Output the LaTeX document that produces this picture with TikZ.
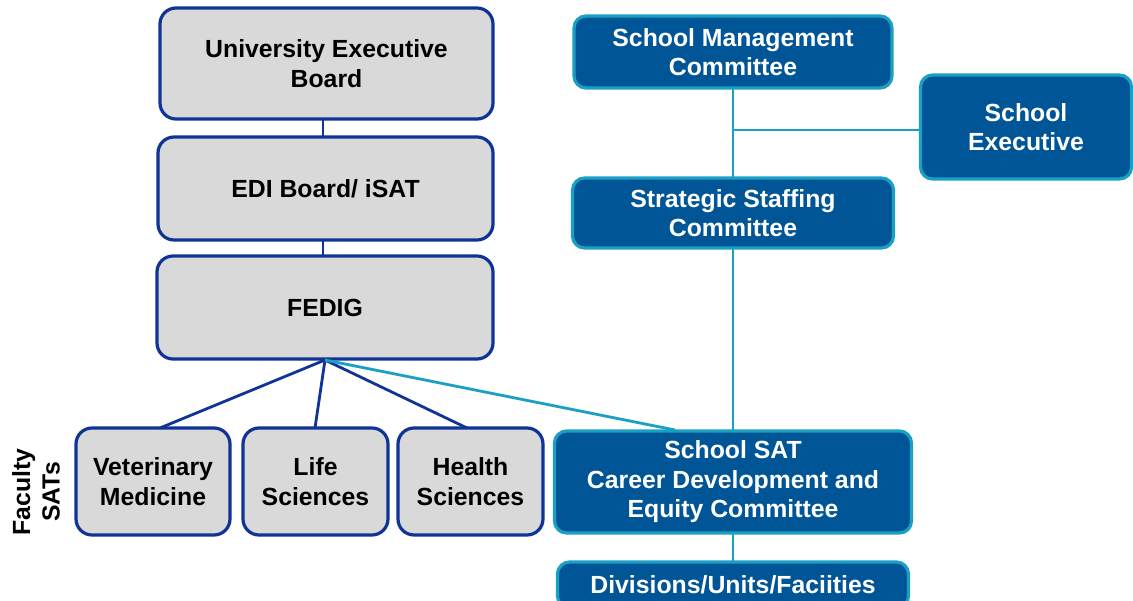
\documentclass[tikz,border=0pt]{standalone}
\usepackage{fontspec}
\setmainfont{Liberation Sans}
\begin{document}
\begin{tikzpicture}[x=1pt,y=-1pt,
  every node/.style={font=\fontsize{24.8}{29.5}\selectfont\bfseries, align=center, inner sep=0pt, outer sep=0pt},
  gbox/.style={draw=navyb, fill=lgray, line width=3.2pt, rounded corners=16pt, text=black},
  bbox/.style={draw=tealb, fill=dblue, line width=3.2pt, rounded corners=12pt, text=white},
  nline/.style={draw=navyb, line width=2.8pt},
  tline/.style={draw=tealb, line width=2.8pt}]
\definecolor{navyb}{RGB}{16,52,150}
\definecolor{lgray}{RGB}{217,217,217}
\definecolor{tealb}{RGB}{26,160,196}
\definecolor{dblue}{RGB}{0,85,150}
\useasboundingbox (0,0) rectangle (1133,600);
\clip (0,0) rectangle (1133,600);
% connector coordinates
\coordinate (cx) at (323,0);
\coordinate (fo) at (325,360);
\coordinate (v1) at (160,428);
\coordinate (l1) at (315,428);
\coordinate (h1) at (467,428);
\coordinate (s1) at (675,430);
\coordinate (j) at (733,130);
% left column
\node[gbox, minimum width=333pt, minimum height=111pt] (ueb) at (326.5,63.5) {University Executive\\Board};
\node[gbox, minimum width=335pt, minimum height=103pt] (edi) at (325.5,188.5) {EDI Board/ iSAT};
\node[gbox, minimum width=336pt, minimum height=103pt] (fedig) at (325,307.5) {FEDIG};
\node[gbox, minimum width=154pt, minimum height=107pt] (vet) at (153,481.5) {Veterinary\\Medicine};
\node[gbox, minimum width=145pt, minimum height=107pt] (life) at (315.5,481.5) {Life\\Sciences};
\node[gbox, minimum width=145pt, minimum height=107pt] (health) at (470.5,481.5) {Health\\Sciences};
\node[rotate=90] (fac) at (36,492) {Faculty\\SATs};
% right column
\node[bbox, minimum width=318pt, minimum height=72pt] (smc) at (733,52) {School Management\\Committee};
\node[bbox, minimum width=211pt, minimum height=104pt] (se) at (1026,127) {School\\Executive};
\node[bbox, minimum width=321pt, minimum height=70pt] (ssc) at (733,213) {Strategic Staffing\\Committee};
\node[bbox, minimum width=357pt, minimum height=102pt] (sat) at (733,482) {School SAT\\Career Development and\\Equity Committee};
\node[bbox, minimum width=351pt, minimum height=46pt] (div) at (733,585) {Divisions/Units/Faciities};
% connectors
\path[nline] (ueb.south -| cx) -- (edi.north -| cx);
\path[nline] (edi.south -| cx) -- (fedig.north -| cx);
\path[nline] (fo) -- (v1);
\path[nline] (fo) -- (l1);
\path[nline] (fo) -- (h1);
\path[tline] (fo) -- (s1);
\path[tline] (smc.south) -- (ssc.north);
\path[tline] (j) -- (j -| se.west);
\path[tline] (ssc.south) -- (sat.north);
\path[tline] (sat.south) -- (div.north);
\end{tikzpicture}
\end{document}
